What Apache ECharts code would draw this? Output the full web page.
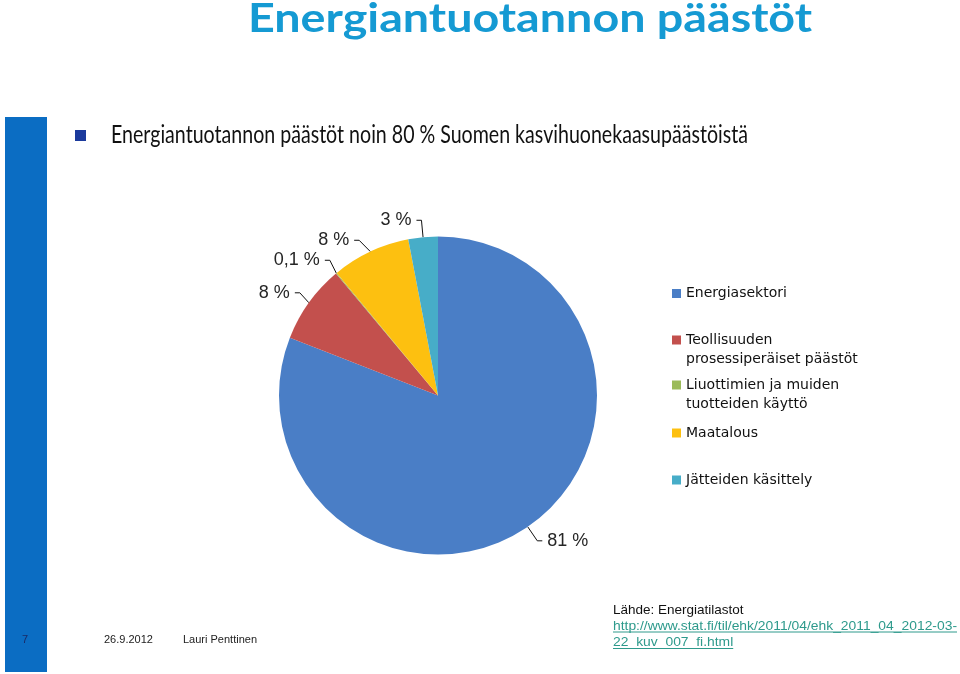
<!DOCTYPE html>
<html>
<head>
<meta charset="utf-8">
<script src="https://cdn.jsdelivr.net/npm/echarts@6/dist/echarts.min.js"></script>
<style>
html,body{margin:0;padding:0;background:#fff;}
#chart{width:960px;height:674px;}
</style>
</head>
<body>
<div id="chart"></div>
<script>
// ---- data ----
const categories = ['Energiasektori', 'Teollisuuden prosessiperäiset päästöt', 'Liuottimien ja muiden tuotteiden käyttö', 'Maatalous', 'Jätteiden käsittely'];
const values = [81, 8, 0.1, 8, 3];
const legendLines = [
  ['Energiasektori'],
  ['Teollisuuden', 'prosessiperäiset päästöt'],
  ['Liuottimien ja muiden', 'tuotteiden käyttö'],
  ['Maatalous'],
  ['Jätteiden käsittely']
];
const colors = ['#4A7EC6', '#C3504D', '#9BBB59', '#FDC010', '#47ADC8'];
const titleText = 'Energiantuotannon päästöt';
const bulletText = 'Energiantuotannon päästöt noin 80 % Suomen kasvihuonekaasupäästöistä';
const slideNumber = '7';
const dateText = '26.9.2012';
const authorText = 'Lauri Penttinen';
const sourceText = 'Lähde: Energiatilastot';
const linkLines = ['http://www.stat.fi/til/ehk/2011/04/ehk_2011_04_2012-03-', '22_kuv_007_fi.html'];

// ---- helpers ----
const cnv = document.createElement('canvas').getContext('2d');
function measure(text, font) { cnv.font = font; return cnv.measureText(text).width; }

const titleFont = 'bold 41px Lato';
const titleScale = 564 / measure(titleText, titleFont);
const bulletFont = '24.5px Lato';
const bulletScale = 637 / measure(bulletText, bulletFont);
const srcFont = '13.5px "Liberation Sans"';

// legend first-line centre positions
const legendCenters = [293.5, 340, 385, 433, 480];
const legendLineH = 19;

const legends = categories.map((c, i) => {
  const lines = legendLines[i];
  const txt = lines.length > 1 ? '\n' + lines.join('\n') : lines[0];
  const nLines = lines.length > 1 ? 3 : 1;
  return {
    data: [c],
    left: 672,
    top: legendCenters[i] - nLines * legendLineH / 2,
    padding: 0,
    orient: 'vertical',
    icon: 'rect',
    itemWidth: 9,
    itemHeight: 9,
    selectedMode: false,
    formatter: () => txt,
    textStyle: { fontFamily: 'DejaVu Sans', fontSize: 14, lineHeight: legendLineH, color: '#111' }
  };
});

const graphics = [
  { type: 'rect', shape: { x: 5, y: 117, width: 42, height: 555 }, style: { fill: '#0B6DC3' }, silent: true },
  { type: 'text', x: 530, y: 19, scaleX: titleScale,
    style: { text: titleText, font: titleFont, fill: '#159AD3', align: 'center', verticalAlign: 'middle', textAlign: 'center', textVerticalAlign: 'middle' } },
  { type: 'rect', shape: { x: 75, y: 130, width: 11, height: 11 }, style: { fill: '#1B3A9C' } },
  { type: 'text', x: 111, y: 135.5, scaleX: bulletScale,
    style: { text: bulletText, font: bulletFont, fill: '#111', align: 'left', verticalAlign: 'middle', textAlign: 'left', textVerticalAlign: 'middle' } },
  { type: 'text', x: 25, y: 640,
    style: { text: slideNumber, font: '11px "Liberation Sans"', fill: '#1A2A66', align: 'center', verticalAlign: 'middle', textAlign: 'center', textVerticalAlign: 'middle' } },
  { type: 'text', x: 104, y: 640,
    style: { text: dateText, font: '11px "Liberation Sans"', fill: '#222', align: 'left', verticalAlign: 'middle', textAlign: 'left', textVerticalAlign: 'middle' } },
  { type: 'text', x: 183, y: 640,
    style: { text: authorText, font: '11px "Liberation Sans"', fill: '#222', align: 'left', verticalAlign: 'middle', textAlign: 'left', textVerticalAlign: 'middle' } },
  { type: 'text', x: 613, y: 610.5,
    style: { text: sourceText, font: srcFont, fill: '#111', align: 'left', verticalAlign: 'middle', textAlign: 'left', textVerticalAlign: 'middle' } }
];
const linkY = [626, 642.5];
const linkScale = Math.min(1.08, 344 / measure(linkLines[0], srcFont));
linkLines.forEach((t, i) => {
  const w = measure(t, srcFont);
  graphics.push({ type: 'text', x: 613, y: linkY[i], scaleX: linkScale,
    style: { text: t, font: srcFont, fill: '#2E9A8C', align: 'left', verticalAlign: 'middle', textAlign: 'left', textVerticalAlign: 'middle' } });
  graphics.push({ type: 'line', shape: { x1: 613, y1: linkY[i] + 6, x2: 613 + w * linkScale, y2: linkY[i] + 6 }, style: { stroke: '#2E9A8C', lineWidth: 1 } });
});

const chart = echarts.init(document.getElementById('chart'), null, { renderer: 'canvas' });
chart.setOption({
  animation: false,
  backgroundColor: '#fff',
  color: colors,
  legend: legends,
  graphic: graphics,
  series: [{
    type: 'pie',
    center: [438, 395.5],
    radius: 159,
    startAngle: 90,
    clockwise: true,
    data: categories.map((c, i) => ({ name: c, value: values[i] })),
    label: {
      show: true,
      position: 'outside',
      formatter: p => String(p.value).replace('.', ',') + ' %',
      fontFamily: 'Liberation Sans',
      fontSize: 18,
      color: '#262626',
      padding: [0, 0, 7, 0]
    },
    labelLine: { show: true, length: 17, length2: 5, lineStyle: { color: '#111', width: 1 } },
    emphasis: { disabled: true }
  }]
});
</script>
</body>
</html>
